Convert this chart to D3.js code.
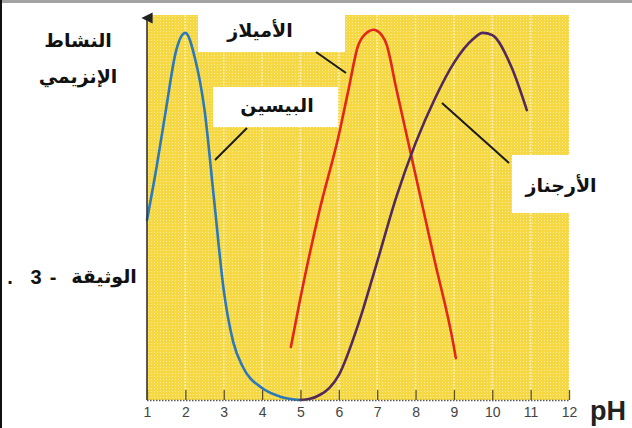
<!DOCTYPE html>
<html><head><meta charset="utf-8">
<script src="https://cdn.jsdelivr.net/npm/d3@7"></script>
<style>
html,body{margin:0;padding:0;background:#fff;}
svg{display:block;}
</style></head>
<body>
<svg id="c" width="632" height="428"></svg>
<script>
// ---- data ----
const phTicks = [1,2,3,4,5,6,7,8,9,10,11,12];
const pepsinPH   = [1, 1.25, 1.5, 1.75, 2, 2.25, 2.5, 2.75, 3, 3.25, 3.5, 4, 4.5, 5];
const pepsinAct  = [46.9, 60.7, 76, 90.6, 95.6, 89, 75.5, 52, 28.6, 15, 8.6, 3.1, 0.8, 0];
const amylasePH  = [4.75, 5, 5.5, 6, 6.25, 6.5, 6.75, 6.9, 7, 7.25, 7.5, 7.75, 8, 8.5, 9, 9.05];
const amylaseAct = [13.8, 26.6, 49.5, 69, 80.7, 92.2, 95.8, 96.4, 96.1, 92.4, 81, 69.8, 58.6, 36.2, 13.8, 10.9];
const arginasePH  = [5, 5.25, 5.5, 5.75, 6, 6.5, 7, 7.5, 8, 8.5, 9, 9.5, 9.75, 10, 10.5, 10.9];
const arginaseAct = [0, 0.3, 1.3, 3.1, 6.5, 19.5, 36, 52.9, 66.9, 78.4, 87.8, 94, 95.6, 95, 86.7, 75.5];
const labels = {pepsin:"البيسين", amylase:"الأميلاز", arginase:"الأرجناز"};
const yTitle = ["النشاط","الإنزيمي"];
const docLabel = "الوثيقة";
const docParts = [".", "3", "-"];
const xUnit = "pH";

// ---- layout ----
const svg = d3.select("#c");
const x = d3.scaleLinear().domain([1,12]).range([147,569]);
const y = d3.scaleLinear().domain([0,100]).range([400,16]);

// frame borders of the original picture
svg.append("rect").attr("x",0).attr("y",0).attr("width",632).attr("height",3).attr("fill","#a3a3a3");
svg.append("rect").attr("x",0).attr("y",0).attr("width",2).attr("height",428).attr("fill","#111");

// yellow textured plot background
const defs = svg.append("defs");
const pat = defs.append("pattern").attr("id","dots").attr("width",3).attr("height",3).attr("patternUnits","userSpaceOnUse");
pat.append("rect").attr("width",3).attr("height",3).attr("fill","#f5d843");
pat.append("rect").attr("x",1).attr("y",1).attr("width",1).attr("height",1).attr("fill","#fbeb96");
defs.append("marker").attr("id","arr").attr("viewBox","0 0 10 10").attr("refX",5).attr("refY",5)
  .attr("markerWidth",7).attr("markerHeight",9).attr("orient","auto")
  .append("path").attr("d","M0,10 L5,0 L10,10 Z").attr("fill","#222");

svg.append("rect").attr("x",x(1)).attr("y",15).attr("width",x(12)-x(1)).attr("height",y(0)-15).attr("fill","url(#dots)");

// vertical light grid lines
svg.append("g").selectAll("line").data(phTicks.filter(d=>d>1&&d<12)).join("line")
  .attr("x1",d=>x(d)).attr("x2",d=>x(d)).attr("y1",15).attr("y2",y(0))
  .attr("stroke","#fff8d8").attr("stroke-width",1.6).attr("stroke-dasharray","2,1").attr("opacity",0.7);

// white label boxes
svg.append("rect").attr("x",198).attr("y",15).attr("width",147).attr("height",37).attr("fill","#fff");
svg.append("rect").attr("x",213).attr("y",87).attr("width",125).attr("height",40).attr("fill","#fff");
svg.append("rect").attr("x",512).attr("y",155).attr("width",120).attr("height",58).attr("fill","#fff");

// curves
const line = d3.line().x(d=>x(d[0])).y(d=>y(d[1])).curve(d3.curveMonotoneX);
const series = [
  {ph:pepsinPH, v:pepsinAct, c:"#2c78bd"},
  {ph:amylasePH, v:amylaseAct, c:"#e3261c"},
  {ph:arginasePH, v:arginaseAct, c:"#52295e"}
];
series.forEach(s=>{
  svg.append("path").datum(d3.zip(s.ph,s.v)).attr("d",line)
    .attr("fill","none").attr("stroke",s.c).attr("stroke-width",2.6).attr("stroke-linecap","round");
});

// pointer lines
const ptr = [[215,160,247,128],[316,52,346,73],[442,103,509,163]];
svg.append("g").selectAll("line").data(ptr).join("line")
  .attr("x1",d=>d[0]).attr("y1",d=>d[1]).attr("x2",d=>d[2]).attr("y2",d=>d[3])
  .attr("stroke","#1a1a1a").attr("stroke-width",2);

// axes
svg.append("line").attr("x1",x(1)).attr("x2",x(1)).attr("y1",y(0)).attr("y2",18)
  .attr("stroke","#333").attr("stroke-width",1.6).attr("marker-end","url(#arr)");
svg.append("line").attr("x1",x(1)).attr("x2",x(12)).attr("y1",y(0)+0.5).attr("y2",y(0)+0.5)
  .attr("stroke","#555").attr("stroke-width",1.6).attr("stroke-dasharray","1.5,1.5");
const ax = svg.append("g").attr("transform",`translate(0,${y(0)})`)
  .call(d3.axisBottom(x).tickValues(phTicks).tickSize(-10).tickPadding(7).tickFormat(d3.format("d")));
ax.select(".domain").remove();
ax.selectAll(".tick line").attr("stroke","#5a5020").attr("stroke-width",1.3);
ax.selectAll(".tick text").attr("font-family","Liberation Sans, Arial, sans-serif").attr("font-size",14).attr("fill","#444");

svg.append("text").attr("x",590).attr("y",420).text(xUnit)
  .attr("font-family","Liberation Sans, Arial, sans-serif").attr("font-weight","bold").attr("font-size",27).attr("fill","#222");

// arabic texts
const ar = (t,xx,yy,fs)=>svg.append("text").attr("x",xx).attr("y",yy).text(t)
  .attr("text-anchor","middle").attr("direction","rtl")
  .attr("font-family","DejaVu Sans, sans-serif").attr("font-weight","bold").attr("font-size",fs||19).attr("fill","#111");
ar(yTitle[0],78,47);
ar(yTitle[1],78,83);
ar(labels.amylase,260,37);
ar(labels.pepsin,277,112);
ar(labels.arginase,561,192);
ar(docLabel,104,283);
// ". 3-" drawn as separate glyph runs, left to right
const numX = [10, 36, 53];
svg.append("g").selectAll("text").data(docParts).join("text")
  .attr("x",(d,i)=>numX[i]).attr("y",284).attr("text-anchor","middle").text(d=>d)
  .attr("font-family","Liberation Sans, Arial, sans-serif").attr("font-weight","bold").attr("font-size",20).attr("fill","#111");
</script>
</body></html>
